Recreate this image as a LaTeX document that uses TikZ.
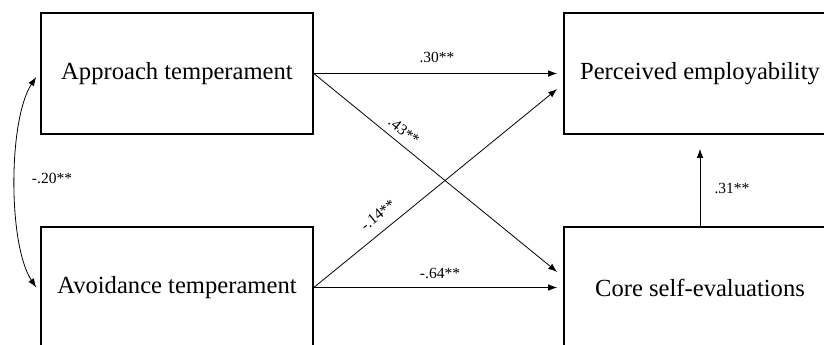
\documentclass[tikz,border=0pt]{standalone}
\usepackage{fontspec}
\setmainfont{Liberation Serif}
\usetikzlibrary{arrows.meta,calc}
\begin{document}
\begin{tikzpicture}[x=1pt,y=-1pt,
  var/.style={draw,line width=1.6pt,minimum width=272pt,minimum height=121pt,
    inner sep=0pt,font=\fontsize{24.6}{28}\selectfont},
  tip/.tip={Latex[length=9pt,width=6.5pt]},
  pathline/.style={line width=0.8pt,-tip},
  coef/.style={font=\fontsize{15.5}{18}\selectfont,inner sep=0pt}]
\useasboundingbox (0,0) rectangle (824,345);
\clip (0,0) rectangle (824,345);

% latent variables
\node[var] (app) at (177,73.5)  {Approach temperament};
\node[var] (avo) at (177,287.5) {Avoidance temperament};
\node[var] (emp) at (700,73.5)  {Perceived employability};
\node[var] (cse) at (700,287.5) {Core self-evaluations};

% arrow end points off the box centres
\coordinate (empIn) at ($(emp.west)+(-6,15.5)$);
\coordinate (cseIn) at ($(cse.west)+(-6,-15.5)$);
\coordinate (appIn) at ($(app.west)+(-4,3.5)$);
\coordinate (avoIn) at ($(avo.west)+(-4,0)$);

% structural paths
\draw[pathline,shorten >=6pt] (app.east) -- (emp.west);
\draw[pathline] (app.east) -- (cseIn);
\draw[pathline] (avo.east) -- (empIn);
\draw[pathline,shorten >=6pt] (avo.east) -- (cse.west);
\draw[pathline,shorten >=14pt] (cse.north) -- (emp.south);

% correlation between the temperaments
\draw[line width=0.8pt,tip-tip] (appIn) .. controls (8,120) and (8,245) .. (avoIn);

% coefficients
\node[coef] (c30) at (437,57) {.30**};
\node[coef,rotate=-39] (c43) at (404,131) {.43**};
\node[coef,rotate=39] (c14) at (378,215) {-.14**};
\node[coef] (c64) at (440,273) {-.64**};
\node[coef] (c31) at (732,188) {.31**};
\node[coef] (c20) at (52,178) {-.20**};
\end{tikzpicture}
\end{document}
